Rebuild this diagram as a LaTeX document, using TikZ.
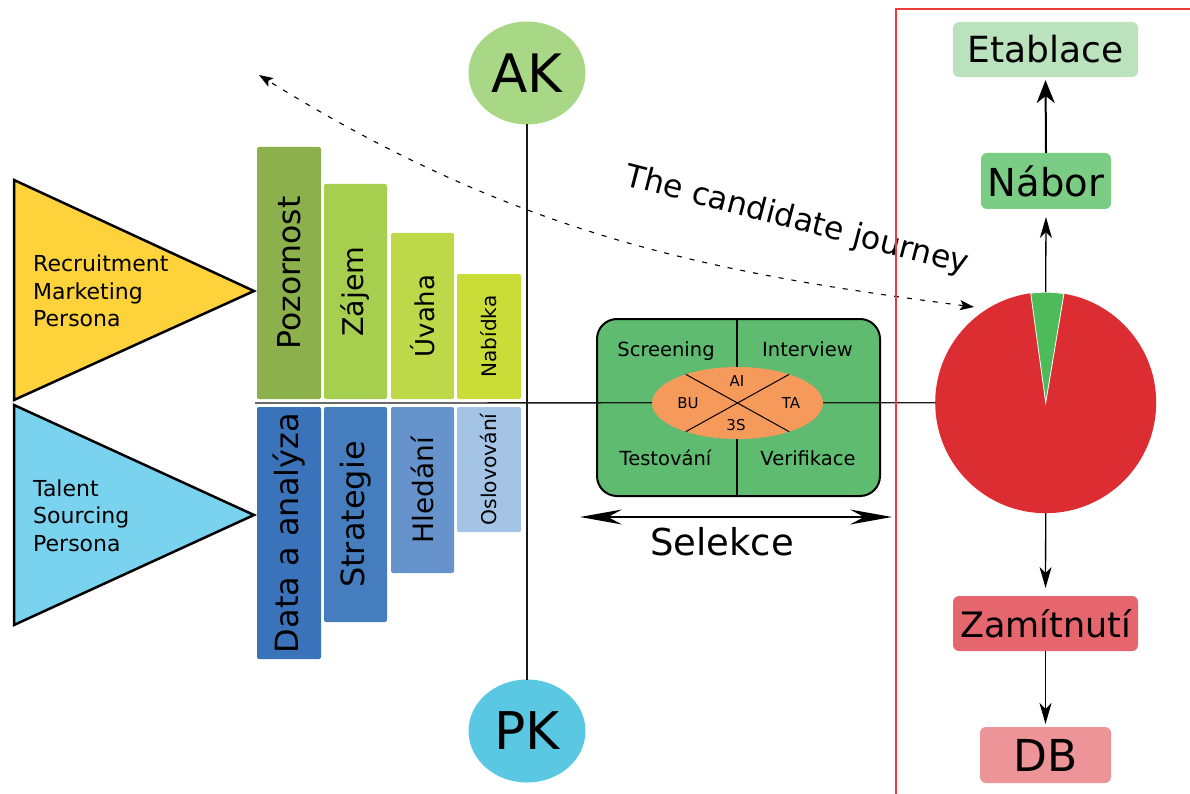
\documentclass[tikz,border=0pt]{standalone}
\usepackage{fontspec}
\setmainfont{DejaVu Sans}
\usetikzlibrary{shapes.geometric,arrows.meta}

\definecolor{cYel}{HTML}{FDD23A}
\definecolor{cCyan}{HTML}{7AD3EE}
\definecolor{cPoz}{HTML}{8BB04C}
\definecolor{cZaj}{HTML}{A6CF4F}
\definecolor{cUva}{HTML}{BFD84A}
\definecolor{cNab}{HTML}{CADC38}
\definecolor{cDat}{HTML}{3A73BA}
\definecolor{cStr}{HTML}{457DBF}
\definecolor{cHle}{HTML}{6693CB}
\definecolor{cOsl}{HTML}{A4C4E6}
\definecolor{cAK}{HTML}{A8D785}
\definecolor{cPK}{HTML}{5BC8E3}
\definecolor{cBox}{HTML}{5FBB70}
\definecolor{cOra}{HTML}{F59A5B}
\definecolor{cPieR}{HTML}{DC2D33}
\definecolor{cPieG}{HTML}{4EBB5A}
\definecolor{cEta}{HTML}{B9E2BD}
\definecolor{cNbr}{HTML}{7BCD85}
\definecolor{cZam}{HTML}{E5666C}
\definecolor{cDB}{HTML}{EC9497}
\definecolor{cFrame}{HTML}{EE3B3B}

\newcommand\setfs[1]{\fontsize{#1}{#1}\selectfont}

\begin{document}
\begin{tikzpicture}[x=1pt,y=-1pt,
  bar/.style={rectangle, rounded corners=2pt, inner sep=0pt, outer sep=0pt, rotate=90},
  oval/.style={ellipse, inner sep=0pt, outer sep=0pt, minimum width=117, minimum height=103, font=\setfs{53}},
  stage/.style={rectangle, rounded corners=6pt, inner sep=0pt, outer sep=0pt, minimum height=56},
  persona/.style={anchor=west, inner sep=0pt, align=left, font=\fontsize{22}{27.5}\selectfont},
  quad/.style={anchor=base, inner sep=0pt, font=\setfs{19.5}},
  small/.style={anchor=base, inner sep=0pt, font=\setfs{15}},
  axis/.style={line width=1.3pt, black!90},
  flow/.style={line width=1.3pt, -{Stealth[length=21pt, width=12pt, inset=6pt]}},
  bigflow/.style={line width=2pt, -{Stealth[length=23pt, width=18pt, inset=7pt]}},
  journey/.style={line width=1.1pt, dash pattern=on 5pt off 8pt,
    {Stealth[length=14pt, width=10pt, inset=3pt]}-{Stealth[length=14pt, width=10pt, inset=3pt]}},
  span/.style={line width=2pt, {Stealth[length=42pt, width=15pt, inset=14pt]}-{Stealth[length=42pt, width=15pt, inset=14pt]}}
]
\useasboundingbox (0,0) rectangle (1190,794);

% persona triangles
\draw[line width=2.5pt, fill=cYel, line join=miter] (14,180) -- (254,291) -- (14,400) -- cycle;
\draw[line width=2.5pt, fill=cCyan, line join=miter] (14,405) -- (254,515) -- (14,625) -- cycle;
\node[persona] (rmp) at (33,291) {Recruitment\\Marketing\\Persona};
\node[persona] (tsp) at (33,515.5) {Talent\\Sourcing\\Persona};

% attraction stages
\node[bar, fill=cPoz, minimum width=252, minimum height=64, font=\setfs{31.5}] (poz) at (289,273) {Pozornost};
\node[bar, fill=cZaj, minimum width=215, minimum height=63, font=\setfs{28.5}] (zaj) at (355.5,291.5) {Zájem};
\node[bar, fill=cUva, minimum width=166, minimum height=63, font=\setfs{26}] (uva) at (422.5,316) {Úvaha};
\node[bar, fill=cNab, minimum width=125, minimum height=64, font=\setfs{20}] (nab) at (489,336.5) {Nabídka};

% sourcing stages
\node[bar, fill=cDat, minimum width=252, minimum height=64, font=\setfs{32}] (dat) at (289,533) {Data a analýza};
\node[bar, fill=cStr, minimum width=215, minimum height=63, font=\setfs{32}] (str) at (355.5,514.5) {Strategie};
\node[bar, fill=cHle, minimum width=166, minimum height=63, font=\setfs{28}] (hle) at (422.5,490) {Hledání};
\node[bar, fill=cOsl, minimum width=125, minimum height=64, font=\setfs{20.3}] (osl) at (489,469.5) {Oslovování};

% AK / PK axis
\node[oval, fill=cAK] (ak) at (527,73) {AK};
\node[oval, fill=cPK, font=\setfs{52}] (pk) at (527,731) {PK};
\draw[axis] (ak.south) -- (pk.north);

% selection box
\node[rectangle, rounded corners=20pt, draw=black, line width=2pt, fill=cBox,
      minimum width=283, minimum height=177, inner sep=0pt] (sel) at (738.5,407.5) {};
\draw[line width=1.2pt] (737,319) -- (737,496);

% outcome pie
\node[circle, fill=cPieR, minimum size=221, inner sep=0pt, outer sep=0pt] (pie) at (1045.7,402.7) {};
\fill[cPieG, draw=white, line width=0.8pt] (pie.center) -- ++(-97.8:110.5)
   arc[start angle=-97.8, end angle=-80.5, radius=110.5] -- cycle;

% horizontal axis
\coordinate (hstart) at (255,403);
\draw[axis] (hstart) -- (pie.west);

% core of the selection box
\node[ellipse, fill=cOra, minimum width=171, minimum height=72, inner sep=0pt, outer sep=0pt] (ell) at (737.5,403) {};
\draw[line width=1pt] (ell.151) -- (ell.-29);
\draw[line width=1pt] (ell.29) -- (ell.-151);
\node[small] (ai) at (737,386) {AI};
\node[small] (bu) at (688,408) {BU};
\node[small] (ta) at (791,408.3) {TA};
\node[small] (s3) at (736,430) {3S};

\node[quad] (scr) at (666,356.7) {Screening};
\node[quad] (int) at (807.5,356.7) {Interview};
\node[quad] (tes) at (665.5,465) {Testování};
\node[quad] (ver) at (808,465) {Verifikace};

% selection span
\coordinate (sl) at (580,517);
\coordinate (sr) at (892,517);
\draw[span] (sl) -- (sr);
\node[anchor=base, inner sep=0pt, font=\setfs{37}] (selekce) at (722,555) {Selekce};

% candidate journey
\coordinate (jstart) at (259,75);
\coordinate (jend) at (974,307);
\draw[journey] (jend) .. controls (713,273) and (520,237) .. (jstart);
\node[rotate=-14.5, inner sep=0pt, font=\setfs{31.5}] (jtext) at (797,221) {The candidate journey};

% outcome frame
\coordinate (f1) at (896,794);
\coordinate (f2) at (896,9);
\coordinate (f3) at (1190,9);
\draw[cFrame, line width=2pt] (f1) -- (f2) -- (f3);

% outcome stages
\node[stage, fill=cEta, minimum width=185, minimum height=55, font=\setfs{36}] (eta) at (1045.5,49.5) {Etablace};
\node[stage, fill=cNbr, minimum width=130, font=\setfs{38.5}] (nbr) at (1046,181) {Nábor};
\node[stage, fill=cZam, minimum width=185, minimum height=55, font=\setfs{35}] (zam) at (1045.5,623.5) {Zamítnutí};
\node[stage, fill=cDB, minimum width=131, font=\setfs{44}] (db) at (1045.5,755) {DB};

\draw[bigflow, shorten >=3pt] (nbr.north) -- (eta.south);
\draw[flow, shorten >=8pt] (pie.north) -- (nbr.south);
\draw[flow, shorten >=8pt] (pie.south) -- (zam.north);
\draw[flow, shorten >=3pt] (zam.south) -- (db.north);
\end{tikzpicture}
\end{document}
